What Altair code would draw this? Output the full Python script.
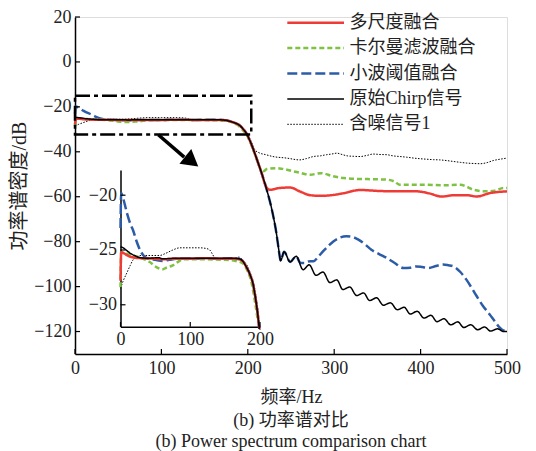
import altair as alt
import pandas as pd

# ---------------- data ----------------
series_names = ["多尺度融合", "卡尔曼滤波融合", "小波阈值融合", "原始Chirp信号", "含噪信号1"]
series_colors = ["#ef3b36", "#7dc242", "#2c5ca8", "#000000", "#000000"]
series_dash = [[1, 0], [5, 3], [10, 4], [1, 0], [1.5, 1.5]]
series_width = [2.5, 2.5, 2.5, 1.5, 1.0]

black_x = [0, 4, 8, 14, 20, 28, 40, 55, 60, 80, 100, 120, 140, 160, 170, 175, 180, 186, 190, 194,
           197, 199, 200, 204, 208, 212, 216, 222, 228, 233, 236, 238, 242, 249, 256, 264, 271, 279, 287, 295,
           303, 310, 318, 326, 334, 341, 349, 357, 365, 373, 381, 388, 396, 404, 412, 419, 427, 435, 443, 450,
           458, 466, 474, 481, 489, 496, 500]
black_y = [-24.7, -24.8, -25.0, -25.3, -25.5, -25.7, -25.75, -25.7, -25.8, -25.75,
           -25.75, -25.75, -25.75, -25.75, -25.8, -26.0, -26.5, -27.3, -28.1, -29.6,
           -31.0, -32.2, -33.0, -36.5, -40.6, -45.0, -49.5, -57.0, -66.0, -76.0,
           -84.0, -88.5, -84.5, -89.0, -86.5, -92.5, -90.3, -95.0, -93.5, -98.2,
           -97.0, -101.3, -100.2, -104.0, -102.8, -106.2, -105.0, -108.3, -107.2, -110.3,
           -109.2, -112.2, -111.0, -114.0, -112.8, -115.6, -114.3, -117.0, -115.7, -118.2,
           -117.0, -119.2, -118.0, -119.8, -118.8, -120.0, -120.0]

blue_x = [0, 1, 3, 6, 10, 14, 18, 23, 28, 33, 38, 50, 60, 70, 80, 100, 120, 140, 160, 170,
          175, 180, 186, 190, 194, 197, 199, 200, 204, 208, 212, 216, 222, 228, 233, 236, 238, 242, 249, 256,
          261, 266, 270, 276, 282, 287, 293, 299, 306, 314, 321, 328, 336, 343, 352, 361, 370, 380, 388, 395,
          402, 409, 418, 426, 432, 438, 446, 453, 459, 465, 472, 480, 486, 492, 496, 500]
blue_y = [-23.0, -19.8, -20.1, -20.8, -21.8, -22.6, -23.2, -24.2, -25.0, -25.5,
          -25.75, -25.9, -26.0, -25.9, -25.8, -25.8, -25.75, -25.8, -25.75, -25.8,
          -26.0, -26.5, -27.3, -28.1, -29.6, -31.0, -32.2, -33.0, -36.5, -40.6,
          -45.0, -49.5, -57.0, -66.0, -76.0, -84.0, -88.5, -84.5, -89.0, -86.5,
          -89.5, -89.5, -88.8, -88.7, -86.5, -84.3, -82.0, -79.9, -78.3, -77.6,
          -77.9, -79.1, -81.3, -83.6, -85.5, -87.3, -89.5, -91.7, -91.6, -91.0,
          -91.3, -91.7, -90.8, -90.2, -90.5, -91.0, -93.5, -96.9, -100.5, -104.3,
          -108.5, -112.4, -115.5, -118.4, -119.5, -119.2]

red_x = [0, 1, 5, 10, 20, 30, 50, 60, 80, 100, 120, 140, 160, 170, 175, 180, 186, 190, 194, 197,
         199, 200, 204, 208, 212, 216, 220, 222, 226, 237, 249, 260, 272, 285, 297, 310, 330, 350, 368, 395,
         410, 424, 440, 453, 465, 480, 500]
red_y = [-27.8, -25.2, -25.3, -25.5, -25.7, -25.75, -25.8, -25.85, -25.8, -25.8,
         -25.75, -25.8, -25.8, -25.85, -26.0, -26.5, -27.3, -28.1, -29.6, -31.0,
         -32.2, -33.0, -36.5, -40.6, -45.0, -49.5, -54.5, -56.1, -56.9, -56.1,
         -55.9, -57.6, -59.3, -59.6, -59.3, -58.5, -57.0, -57.4, -57.6, -57.6,
         -58.5, -59.9, -59.3, -59.3, -59.9, -58.4, -57.6]

green_x = [0, 1, 6, 12, 18, 28, 36, 42, 50, 56, 61, 66, 75, 82, 90, 100, 120, 150, 165, 175,
           182, 188, 193, 197, 199, 200, 204, 208, 212, 215, 218, 222, 233, 240, 253, 262, 272, 285, 298, 311,
           330, 345, 361, 370, 376, 390, 407, 425, 446, 455, 461, 476, 486, 496, 500]
green_y = [-28.4, -25.2, -25.3, -25.4, -25.5, -25.7, -25.9, -26.1, -26.5, -26.7,
           -26.75, -26.6, -26.4, -26.1, -25.85, -25.85, -25.85, -25.9, -26.0, -26.2,
           -26.9, -28.0, -29.8, -31.5, -32.5, -33.3, -36.8, -40.8, -45.0, -48.0,
           -48.7, -47.7, -47.3, -47.6, -48.7, -49.5, -50.2, -49.5, -50.8, -51.7,
           -52.1, -52.2, -52.4, -53.3, -54.7, -54.7, -54.7, -54.9, -54.7, -55.8,
           -56.9, -57.6, -57.3, -56.1, -56.1]

noisy_x = [0, 4, 9, 14, 18, 24, 30, 45, 56, 65, 75, 85, 100, 113, 122, 128, 132, 135, 140, 160,
           170, 175, 185, 192, 197, 200, 204, 208, 214, 220, 229, 245, 260, 268, 276, 284, 291, 297, 303, 309,
           315, 322, 330, 338, 345, 353, 361, 368, 376, 384, 392, 400, 407, 415, 422, 430, 438, 446, 453, 461,
           469, 477, 484, 492, 500]
noisy_y = [-28.5, -27.8, -27.1, -26.4, -25.9, -25.6, -25.5, -25.5, -25.5, -25.3,
           -25.0, -24.8, -24.8, -24.8, -24.85, -25.0, -25.4, -25.7, -25.8, -25.8,
           -25.65, -25.9, -26.9, -28.4, -30.5, -32.3, -35.5, -39.0, -40.6, -41.2,
           -42.1, -42.8, -43.6, -43.0, -42.1, -41.8, -41.3, -41.0, -40.6, -41.2,
           -41.8, -42.0, -42.1, -41.6, -41.0, -41.2, -41.3, -41.8, -42.1, -42.4,
           -42.8, -43.1, -43.3, -43.5, -43.6, -43.9, -44.3, -44.7, -45.0, -45.2,
           -45.3, -44.8, -43.9, -43.3, -42.8]

main_x_ticks = [0, 100, 200, 300, 400, 500]
main_y_ticks = [-120, -100, -80, -60, -40, -20, 0, 20]
inset_x_ticks = [0, 100, 200]
inset_y_ticks = [-30, -25, -20]

zoom_box = {"x1": [0], "x2": [204], "y1": [-15.1], "y2": [-32.3]}
arrow_line = {"x": [96.4], "y": [-32.4], "x2": [126.4], "y2": [-42.4]}
arrow_head = {"x": [135.2], "y": [-44.3]}

# ---------------- build tables ----------------
rows = []
for k, (name, xs, ys) in enumerate([("多尺度融合", red_x, red_y), ("卡尔曼滤波融合", green_x, green_y),
                                    ("小波阈值融合", blue_x, blue_y), ("原始Chirp信号", black_x, black_y),
                                    ("含噪信号1", noisy_x, noisy_y)]):
    for i, (xv, yv) in enumerate(zip(xs, ys)):
        rows.append({"series": name, "x": xv, "y": yv, "order": i, "sw": series_width[k]})
df = pd.DataFrame(rows)
layer_order = {"含噪信号1": 0, "小波阈值融合": 1, "卡尔曼滤波融合": 2, "多尺度融合": 3, "原始Chirp信号": 4}
df["z"] = df["series"].map(layer_order)
df = df.sort_values(["z", "order"]).reset_index(drop=True)

legend_df = pd.DataFrame({"series": series_names, "rank": list(range(len(series_names))),
                          "sw": series_width})

FONT = "Liberation Serif, Times New Roman, Noto Sans CJK SC"


def xmain():
    return alt.Scale(domain=[0, 500], nice=False, zero=False)


def ymain():
    return alt.Scale(domain=[-130, 20], nice=False, zero=False)


def xin():
    return alt.Scale(domain=[0, 200], range=[45.5, 185], nice=False, zero=False)


def yin():
    return alt.Scale(domain=[-32, -17.7], range=[309.7, 153], nice=False, zero=False)


def yleg():
    return alt.Scale(domain=[0, 4], range=[5.7, 107.3], nice=False, zero=False)


axis_common = dict(tickSize=0, labelFontSize=18, labelFont=FONT, labelColor="#222",
                   domainColor="#000", domainWidth=1.5, grid=False, labelFlush=False)

color_enc = alt.Color("series:N", sort=series_names,
                      scale=alt.Scale(domain=series_names, range=series_colors), legend=None)
dash_enc = alt.StrokeDash("series:N", sort=series_names,
                          scale=alt.Scale(domain=series_names, range=series_dash), legend=None)

main_lines = alt.Chart(df).mark_line(strokeJoin="round", interpolate="monotone").encode(
    x=alt.X("x:Q", scale=xmain(),
            axis=alt.Axis(orient="bottom", values=main_x_ticks, labelPadding=5, title="频率/Hz",
                          titleFont=FONT, titleFontSize=18, titleFontWeight="normal",
                          titleColor="#222", titlePadding=11, **axis_common)),
    y=alt.Y("y:Q", scale=ymain(),
            axis=alt.Axis(orient="left", values=main_y_ticks, labelPadding=4, title="功率谱密度/dB",
                          titleFont=FONT, titleFontSize=20, titleFontWeight="normal",
                          titleColor="#222", titlePadding=4, **axis_common)),
    color=color_enc, strokeDash=dash_enc,
    strokeWidth=alt.StrokeWidth("sw:Q", scale=None),
    detail="series:N", order="order:Q",
)

box = alt.Chart(pd.DataFrame(zoom_box)).mark_rect(
    fill=None, stroke="black", strokeWidth=2.5, strokeDash=[15, 4, 4, 4]).encode(
    x=alt.X("x1:Q", scale=xmain(), axis=None), x2="x2:Q",
    y=alt.Y("y1:Q", scale=ymain(), axis=None), y2="y2:Q")

arrow = alt.Chart(pd.DataFrame(arrow_line)).mark_rule(stroke="black", strokeWidth=3.5).encode(
    x=alt.X("x:Q", scale=xmain(), axis=None), x2="x2:Q",
    y=alt.Y("y:Q", scale=ymain(), axis=None), y2="y2:Q")

head = alt.Chart(pd.DataFrame(arrow_head)).mark_point(
    shape="triangle-up", filled=True, color="black", size=361, angle=128.4, opacity=1).encode(
    x=alt.X("x:Q", scale=xmain(), axis=None),
    y=alt.Y("y:Q", scale=ymain(), axis=None))

xt = alt.Chart(pd.DataFrame({"t": main_x_ticks})).mark_rule(stroke="black", strokeWidth=1.2).encode(
    x=alt.X("t:Q", scale=xmain(), axis=None), y=alt.value(337), y2=alt.value(332))
yt = alt.Chart(pd.DataFrame({"t": main_y_ticks})).mark_rule(stroke="black", strokeWidth=1.2).encode(
    y=alt.Y("t:Q", scale=ymain(), axis=None), x=alt.value(0), x2=alt.value(5))

# ---------------- legend (line samples + labels) ----------------
leg_lines = alt.Chart(legend_df).mark_rule().encode(
    y=alt.Y("rank:Q", scale=yleg(), axis=None),
    x=alt.value(212.3), x2=alt.value(269),
    color=alt.Color("series:N", sort=series_names, legend=None),
    strokeDash=alt.StrokeDash("series:N", sort=series_names, legend=None),
    strokeWidth=alt.StrokeWidth("sw:Q", scale=None),
)
leg_text = alt.Chart(legend_df).mark_text(
    align="left", baseline="middle", font=FONT, fontSize=18, color="#222").encode(
    y=alt.Y("rank:Q", scale=yleg(), axis=None),
    x=alt.value(274.5),
    text="series:N",
)

# ---------------- inset ----------------
inset_lines = alt.Chart(df).transform_filter(
    (alt.datum.x <= 200) & (alt.datum.y >= -32.3)
).mark_line(strokeJoin="round", interpolate="monotone").encode(
    x=alt.X("x:Q", scale=xin(),
            axis=alt.Axis(orient="bottom", offset=-27.3, values=inset_x_ticks,
                          labelPadding=4, title=None, **axis_common)),
    y=alt.Y("y:Q", scale=yin(),
            axis=alt.Axis(orient="left", offset=-45.5, values=inset_y_ticks,
                          labelPadding=4, title=None, **axis_common)),
    color=alt.Color("series:N", sort=series_names, legend=None),
    strokeDash=alt.StrokeDash("series:N", sort=series_names, legend=None),
    strokeWidth=alt.StrokeWidth("sw:Q", scale=None),
    detail="series:N", order="order:Q",
)
ixt = alt.Chart(pd.DataFrame({"t": inset_x_ticks})).mark_rule(stroke="black", strokeWidth=1.2).encode(
    x=alt.X("t:Q", scale=xin(), axis=None), y=alt.value(309.7), y2=alt.value(305))
iyt = alt.Chart(pd.DataFrame({"t": inset_y_ticks})).mark_rule(stroke="black", strokeWidth=1.2).encode(
    y=alt.Y("t:Q", scale=yin(), axis=None), x=alt.value(45.5), x2=alt.value(50.5))

chart = alt.layer(main_lines, box, arrow, head, xt, yt, leg_lines, leg_text,
                  inset_lines, ixt, iyt).resolve_scale(
    x="independent", y="independent").properties(
    width=432, height=337,
    autosize=alt.AutoSizeParams(type="none"),
    padding={"left": 75, "top": 17, "right": 29, "bottom": 97},
    title=alt.TitleParams(["(b) 功率谱对比", "(b) Power spectrum comparison chart"],
                          orient="bottom", anchor="middle", font=FONT, fontSize=18,
                          fontWeight="normal", color="#222", lineHeight=21, offset=6),
).configure_view(stroke=None).configure(background="white")

chart.save("out.html", embed_options={"renderer": "svg", "actions": False})
